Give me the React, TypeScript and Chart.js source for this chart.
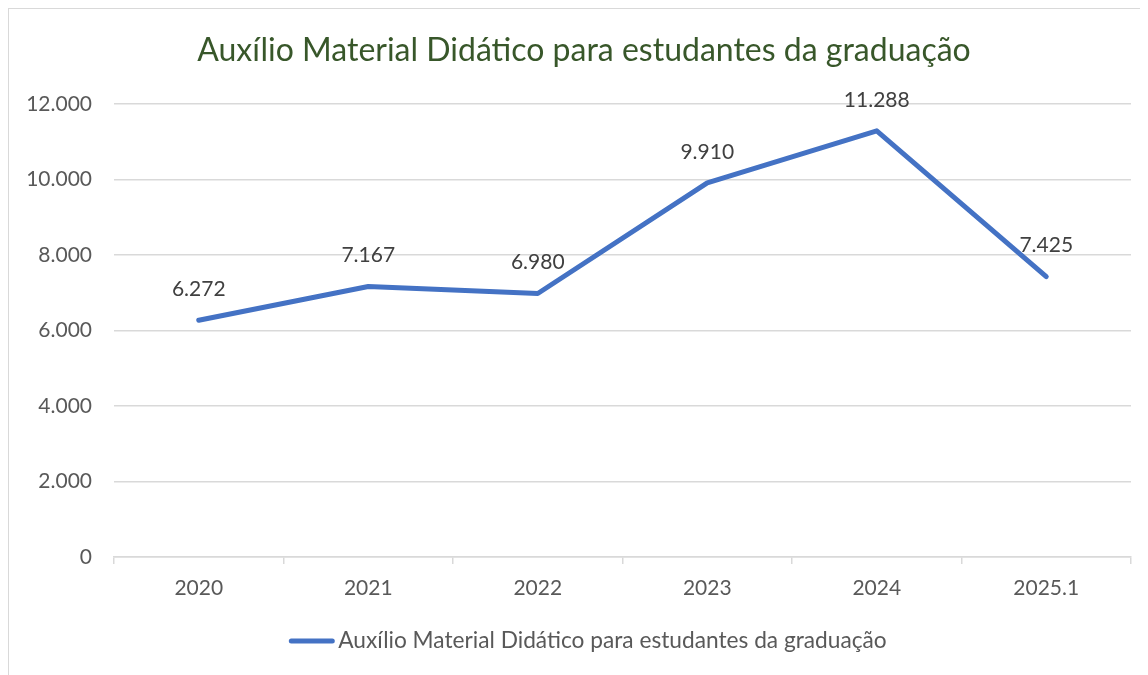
import React, { useEffect, useRef } from "react";
import { Chart, registerables } from "chart.js";

Chart.register(...registerables);

const TITLE = "Auxílio Material Didático para estudantes da graduação";
const SERIES_NAME = "Auxílio Material Didático para estudantes da graduação";
const categories = ["2020", "2021", "2022", "2023", "2024", "2025.1"];
const values = [6272, 7167, 6980, 9910, 11288, 7425];
const yTicks = [0, 2000, 4000, 6000, 8000, 10000, 12000];

const FONT = "Lato, 'Open Sans', sans-serif";
const fmt = (v: number) => String(Math.round(v)).replace(/\B(?=(\d{3})+(?!\d))/g, ".");

export default function App() {
  const ref = useRef<HTMLCanvasElement>(null);
  useEffect(() => {
    if (!ref.current) return;
    const overlay = {
      id: "overlay",
      afterDatasetsDraw(chart: any) {
        const ctx = chart.ctx;
        const meta = chart.getDatasetMeta(0);
        ctx.save();
        ctx.font = `21px ${FONT}`;
        ctx.fillStyle = "#404040";
        ctx.textAlign = "center";
        ctx.textBaseline = "middle";
        meta.data.forEach((pt: any, i: number) => {
          ctx.fillText(fmt(values[i]), pt.x, pt.y - 31);
        });
        ctx.restore();
      },
      afterDraw(chart: any) {
        const ctx = chart.ctx;
        ctx.save();
        ctx.font = `32px ${FONT}`;
        ctx.fillStyle = "#38572A";
        ctx.textAlign = "center";
        ctx.textBaseline = "middle";
        ctx.fillText(TITLE, 575, 42);
        // legend
        ctx.font = `22.7px ${FONT}`;
        const tw = ctx.measureText(SERIES_NAME).width;
        const lineW = 45;
        const gap = 4;
        const total = lineW + gap + tw;
        const x0 = 579 - total / 2;
        const ly = 632;
        ctx.strokeStyle = "#4472C4";
        ctx.lineWidth = 5;
        ctx.lineCap = "round";
        ctx.beginPath();
        ctx.moveTo(x0 + 2, ly);
        ctx.lineTo(x0 + lineW - 2, ly);
        ctx.stroke();
        ctx.fillStyle = "#595959";
        ctx.textAlign = "left";
        ctx.fillText(SERIES_NAME, x0 + lineW + gap, ly);
        ctx.restore();
      },
    };
    const chart = new Chart(ref.current, {
      type: "line",
      data: {
        labels: categories,
        datasets: [
          {
            label: SERIES_NAME,
            data: values,
            borderColor: "#4472C4",
            backgroundColor: "#4472C4",
            borderWidth: 5,
            pointRadius: 0,
            borderJoinStyle: "round",
            borderCapStyle: "round",
            tension: 0,
          },
        ],
      },
      options: {
        responsive: false,
        animation: false,
        layout: { padding: { top: 95, right: 17, left: 0, bottom: 68 } },
        plugins: {
          legend: { display: false },
          title: { display: false },
          tooltip: { enabled: false },
        },
        scales: {
          x: {
            type: "category",
            offset: true,
            afterFit: (s: any) => { s.height = 50; },
            grid: {
              offset: true,
              drawOnChartArea: false,
              drawTicks: true,
              tickLength: 7,
              color: "#d9d9d9",
              lineWidth: 1.5,
            },
            border: { display: true, color: "#d9d9d9", width: 1.5 },
            ticks: {
              color: "#595959",
              font: { family: FONT, size: 21 },
              padding: 12,
              maxRotation: 0,
            },
          },
          y: {
            min: 0,
            max: 12000,
            afterFit: (s: any) => { s.width = 105; },
            afterBuildTicks: (s: any) => { s.ticks = yTicks.map((v) => ({ value: v })); },
            grid: { color: "#d9d9d9", lineWidth: 1.5, drawTicks: false },
            border: { display: false },
            ticks: {
              color: "#595959",
              font: { family: FONT, size: 21 },
              padding: 22,
              callback: (v: any) => fmt(Number(v)),
            },
          },
        },
      },
      plugins: [overlay],
    });
    return () => chart.destroy();
  }, []);
  return (
    <div
      style={{
        width: 1140,
        height: 667,
        borderLeft: "1px solid #d9d9d9",
        borderTop: "1px solid #d9d9d9",
        boxSizing: "border-box",
        background: "#fff",
        overflow: "hidden",
      }}
    >
      <canvas ref={ref} width={1139} height={666} style={{ display: "block" }} />
    </div>
  );
}
